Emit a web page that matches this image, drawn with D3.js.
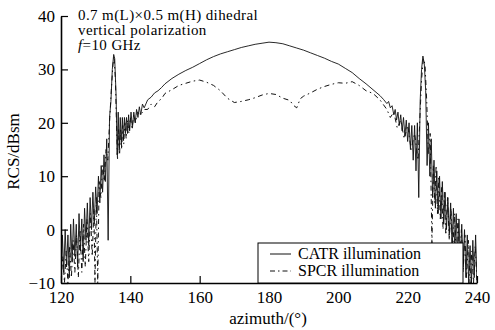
<!DOCTYPE html>
<html>
<head>
<meta charset="utf-8">
<script src="https://cdn.jsdelivr.net/npm/d3@7"></script>
<style>
  body { margin: 0; background: #fff; }
  svg { display: block; font-family: "Liberation Serif", "Times New Roman", serif; }
</style>
</head>
<body>
<svg id="chart" width="495" height="330"></svg>
<script>
var width = 495,
    height = 330,
    margin = {top: 16, right: 18, bottom: 47, left: 61};

var xTicks = [120, 140, 160, 180, 200, 220, 240],
    yTicks = [-10, 0, 10, 20, 30, 40];

var seriesNames = ["CATR illumination", "SPCR illumination"];

var noteLines = ["0.7 m(L)\u00d70.5 m(H) dihedral", "vertical polarization"];

// CATR illumination, [azimuth, RCS]
var catr = [
  [120,-9],[120.4,-1],[120.8,-8],[121.2,0],[121.6,-7],[122,-1],[122.4,-9],[122.8,1],
  [123.2,-6],[123.6,2],[124,-5],[124.4,1],[124.8,-7],[125.2,3],[125.6,-4],[126,2],
  [126.4,-6],[126.8,4],[127.2,-2],[127.6,5],[128,-3],[128.4,6],[128.8,0],[129.2,7],
  [129.6,1],[130,8],[130.4,3],[130.8,10],[131.2,5],[131.6,12],[132,7],[132.4,14],
  [132.8,9],[133.2,17],[133.6,-2],[134,21],[134.4,24],[134.8,30],[135.2,32.8],[135.5,32],
  [135.9,25],[136.2,14],[136.5,22],[136.8,15],[137.1,21],[137.4,16],[137.7,21],[138,17],
  [138.3,21],[138.6,18],[138.9,21],[139.2,18],[139.5,21.5],[139.8,18.5],[140.2,22],[140.6,19],
  [141,22],[141.4,20],[141.8,22.5],[142.2,21],[142.6,23],[143,21.5],[143.5,23.5],[144,22.8],
  [145,24.3],[146,24.8],[147,25.6],[148,26],[149,26.6],[150,27.3],[152,28.3],[154,29.1],
  [156,29.8],[158,30.4],[160,31.1],[162,31.8],[164,32.4],[166,32.9],[168,33.3],[170,33.7],
  [172,34.1],[174,34.4],[176,34.7],[178,34.9],[180,35.1],[182,35],[184,34.8],[186,34.4],
  [188,34],[190,33.6],[192,33.1],[194,32.6],[196,32.1],[198,31.5],[200,31],[202,30.2],
  [204,29.4],[206,28.3],[208,27.3],[210,26.2],[212,25.1],[213,24.4],[214,23.6],[214.5,24],
  [215,22.8],[215.5,23.2],[216,21.5],[216.4,22.5],[216.8,20.5],[217.2,22],[217.6,19.5],[218,21.5],
  [218.4,18.5],[218.8,21],[219.2,17.5],[219.6,20.5],[220,16.5],[220.4,20],[220.8,15],[221.2,19.5],
  [221.6,13],[222,19.5],[222.4,11],[222.8,20],[223.2,6],[223.6,24],[224,30],[224.4,32.5],
  [224.8,31],[225.2,26],[225.6,12],[226,20],[226.4,10],[226.8,17],[227.2,6],[227.6,13],
  [228,4],[228.4,11],[228.8,3],[229.2,10],[229.6,2],[230,9],[230.4,1],[230.8,7],
  [231.2,0],[231.6,6],[232,-1],[232.4,5],[232.8,-3],[233.2,4],[233.6,-4],[234,3],
  [234.4,-5],[234.8,2],[235.2,-6],[235.6,1],[236,-7],[236.4,0],[236.8,-9],[237.2,-1],
  [237.6,-10],[238,-3],[238.4,-10],[238.8,-2],[239.2,-9],[239.6,-1],[240,-10]
];

// SPCR illumination, [azimuth, RCS]
var spcr = [
  [120,-10],[120.5,-5],[121,-10],[121.5,-4],[122,-10],[122.5,-3],[123,-9],[123.5,-2],
  [124,-8],[124.5,-1],[125,-9],[125.5,0],[126,-8],[126.5,1],[127,-7],[127.5,2],
  [128,-6],[128.5,3],[129,-5],[129.5,4],[129.8,-10],[130.2,6],[130.6,-10],[131,9],
  [131.5,6],[132,12],[132.5,9],[133,15],[133.5,13],[134,20],[134.5,26],[135,31],
  [135.3,32.5],[135.7,28],[136,20],[136.3,13],[136.6,19],[136.9,14],[137.2,19],[137.5,15],
  [137.8,19.5],[138.1,16],[138.4,20],[138.8,17],[139.2,20.5],[139.6,18],[140,21],[140.5,19],
  [141,21.5],[141.5,20],[142,22],[143,21.5],[144,22.5],[145,22.5],[146,23.5],[147,23],
  [148,24],[149,24.5],[150,25.5],[152,26.2],[154,27],[156,27.4],[158,27.8],[160,28],
  [162,27.6],[164,27],[166,26],[168,24.6],[170,23.8],[172,24],[174,24.3],[176,24.7],
  [178,25.2],[180,25.5],[182,25.3],[184,24.6],[186,24.2],[187,23.3],[188,22.8],[189,24.5],
  [190,25],[192,25.6],[194,26.3],[196,26.8],[198,27.2],[200,27.5],[202,27.4],[204,27.7],
  [206,27],[208,26],[210,25.5],[212,24.3],[214,22.5],[215,21],[216,22],[217,19],
  [218,20.5],[219,17],[220,19.5],[221,15],[222,18],[223,13],[223.6,22],[224,28],
  [224.5,32],[225,31],[225.5,24],[226,14],[226.5,18],[227,-2.5],[227.4,12],[227.8,5],
  [228.2,12],[228.6,3],[229,10],[229.4,2],[229.8,8],[230.2,0],[230.6,7],[231,-1],
  [231.5,6],[232,-2],[232.5,4],[233,-4],[233.5,3],[234,-5],[234.5,2],[235,-6],
  [235.5,0],[236,-8],[236.5,-1],[237,-9],[237.5,-2],[238,-10],[238.5,-4],[239,-10],
  [239.5,-3],[240,-10]
];

var svg = d3.select("#chart");

var x = d3.scaleLinear().domain([120, 240]).range([margin.left, width - margin.right]);
var y = d3.scaleLinear().domain([-10, 40]).range([height - margin.bottom, margin.top]);

svg.append("defs").append("clipPath").attr("id", "plot")
  .append("rect")
    .attr("x", x(120)).attr("y", y(40))
    .attr("width", x(240) - x(120)).attr("height", y(-10) - y(40));

var line = d3.line()
    .x(function(d) { return x(d[0]); })
    .y(function(d) { return y(d[1]); });

var plot = svg.append("g").attr("clip-path", "url(#plot)");

plot.append("path")
    .datum(catr)
    .attr("d", line)
    .attr("fill", "none")
    .attr("stroke", "#111")
    .attr("stroke-width", 0.9);

plot.append("path")
    .datum(spcr)
    .attr("d", line)
    .attr("fill", "none")
    .attr("stroke", "#111")
    .attr("stroke-width", 1)
    .attr("stroke-dasharray", "5,3.5,1.5,3.5");

// axes
var xAxis = svg.append("g")
    .attr("transform", "translate(0," + y(-10) + ")")
    .call(d3.axisBottom(x).tickValues(xTicks).tickSizeInner(-7).tickSizeOuter(0).tickPadding(8));

var yAxis = svg.append("g")
    .attr("transform", "translate(" + x(120) + ",0)")
    .call(d3.axisLeft(y).tickValues(yTicks).tickSizeInner(-7).tickSizeOuter(0).tickPadding(6));

[xAxis, yAxis].forEach(function(a) {
  a.attr("font-family", null).attr("font-size", 17);
  a.select(".domain").attr("stroke", "#000").attr("stroke-width", 1.6);
  a.selectAll(".tick line").attr("stroke", "#000").attr("stroke-width", 1.2);
  a.selectAll(".tick text").attr("fill", "#000");
});

// axis titles
svg.append("text")
    .attr("transform", "translate(19," + (y(15) + 2) + ")rotate(-90)")
    .attr("text-anchor", "middle")
    .attr("font-size", 17)
    .text("RCS/dBsm");

svg.append("text")
    .attr("x", x(180) - 1)
    .attr("y", 324)
    .attr("text-anchor", "middle")
    .attr("font-size", 17)
    .text("azimuth/(\u00b0)");

// annotation
var note = svg.append("g").attr("font-size", 15).attr("letter-spacing", 0.4);
noteLines.forEach(function(t, i) {
  note.append("text").attr("x", 78).attr("y", 20 + i * 15).text(t);
});
var fl = note.append("text").attr("x", 78).attr("y", 50);
fl.append("tspan").attr("font-style", "italic").text("f");
fl.append("tspan").text("=10 GHz");

// legend
var legend = svg.append("g");
legend.append("rect")
    .attr("x", 258).attr("y", 243)
    .attr("width", 205).attr("height", y(-10) - 243)
    .attr("fill", "#fff").attr("stroke", "#000").attr("stroke-width", 1);

seriesNames.forEach(function(name, i) {
  var ly = 254 + i * 17;
  legend.append("line")
      .attr("x1", 270).attr("x2", 291)
      .attr("y1", ly).attr("y2", ly)
      .attr("stroke", "#111").attr("stroke-width", 1)
      .attr("stroke-dasharray", i ? "5,3,1.5,3" : null);
  legend.append("text")
      .attr("x", 298).attr("y", ly + 5)
      .attr("font-size", 16)
      .text(name);
});
</script>
</body>
</html>
